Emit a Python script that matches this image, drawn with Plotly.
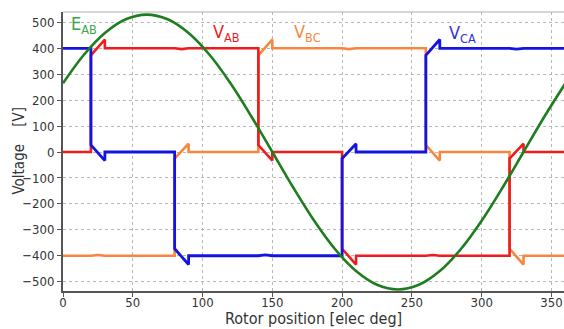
import plotly.graph_objects as go

# Back-EMF of line A-B, sampled every 15 electrical degrees
theta_e = [0, 15, 30, 45, 60, 75, 90, 105, 120, 135, 150, 165, 180,
           195, 210, 225, 240, 255, 270, 285, 300, 315, 330, 345, 360]
e_ab = [265, 375, 459, 512, 530, 512, 459, 375, 265, 137, 0, -137, -265,
        -375, -459, -512, -530, -512, -459, -375, -265, -137, 0, 137, 265]

# Six-step line voltages with commutation spikes (breakpoints)
theta_ab = [0, 20, 20, 30, 30, 80, 85, 90, 140, 140, 150, 150, 200, 200,
            210, 210, 260, 265, 270, 320, 320, 330, 330, 360]
v_ab = [0, 0, 373, 434, 400, 400, 397, 400, 400, 27, -33, 0, 0, -373,
        -434, -400, -400, -397, -400, -400, -25, 32, 0, 0]

theta_bc = [0, 20, 25, 30, 80, 80, 90, 90, 140, 140, 150, 150, 200, 205,
            210, 260, 260, 270, 270, 320, 320, 330, 330, 360]
v_bc = [-400, -400, -397, -400, -400, -25, 32, 0, 0, 373, 434, 400, 400,
        397, 400, 400, 27, -33, 0, 0, -373, -434, -400, -400]

theta_ca = [0, 20, 20, 30, 30, 80, 80, 90, 90, 140, 145, 150, 200, 200,
            210, 210, 260, 260, 270, 270, 320, 325, 330, 360]
v_ca = [400, 400, 27, -33, 0, 0, -373, -434, -400, -400, -397, -400, -400,
        -25, 32, 0, 0, 373, 434, 400, 400, 397, 400, 400]

x_ticks = [0, 50, 100, 150, 200, 250, 300, 350]
y_ticks = [-500, -400, -300, -200, -100, 0, 100, 200, 300, 400, 500]

C_AB = "#ee1c1c"
C_BC = "#f7873f"
C_CA = "#1414e0"
C_E = "#1e7d1e"
FONT = "DejaVu Sans Condensed, Roboto, sans-serif"
TXT = "#333333"

fig = go.Figure()
fig.add_trace(go.Scatter(x=theta_bc, y=v_bc, mode="lines",
                         line=dict(color=C_BC, width=2.6), name="V_BC"))
fig.add_trace(go.Scatter(x=theta_ab, y=v_ab, mode="lines",
                         line=dict(color=C_AB, width=2.6), name="V_AB"))
fig.add_trace(go.Scatter(x=theta_ca, y=v_ca, mode="lines",
                         line=dict(color=C_CA, width=2.8), name="V_CA"))
fig.add_trace(go.Scatter(x=theta_e, y=e_ab, mode="lines",
                         line=dict(color=C_E, width=2.6, shape="spline", smoothing=1.0),
                         name="E_AB"))

labels = [
    ("E<sub>AB</sub>", 4, 488, "#3aa54a"),
    ("V<sub>AB</sub>", 106, 458, C_AB),
    ("V<sub>BC</sub>", 164, 458, C_BC),
    ("V<sub>CA</sub>", 275, 455, "#3030d8"),
]
for txt, x, y, col in labels:
    fig.add_annotation(x=x, y=y, text=txt, showarrow=False, xanchor="left",
                       yanchor="middle", font=dict(family=FONT, size=18, color=col))

# Axis titles placed in pixel-aligned paper coordinates
fig.add_annotation(x=0.5, y=0, xref="paper", yref="paper", yshift=-27,
                   text="Rotor position [elec deg]", showarrow=False,
                   xanchor="center", yanchor="middle",
                   font=dict(family=FONT, size=16, color=TXT))
fig.add_annotation(x=0, y=0.5, xref="paper", yref="paper", xshift=-45,
                   text="Voltage&nbsp;&nbsp;&nbsp;&nbsp;[V]", showarrow=False,
                   textangle=-90, xanchor="center", yanchor="middle",
                   font=dict(family=FONT, size=15, color=TXT))

fig.add_shape(type="line", xref="paper", yref="paper", x0=0, x1=1, y0=1, y1=1,
              line=dict(color="#b0b0b0", width=1))

axis_common = dict(
    showgrid=True, gridcolor="#b8b8b8", griddash="dot", gridwidth=1,
    showline=True, linecolor="#555555", linewidth=2,
    ticks="outside", ticklen=4, tickcolor="#555555",
    tickfont=dict(family=FONT, size=13, color=TXT),
    zeroline=False,
)

fig.update_xaxes(range=[0, 359], tickvals=x_ticks, ticklabelstandoff=-6, **axis_common)
fig.update_yaxes(range=[-536, 540], tickvals=y_ticks, **axis_common)

fig.update_layout(
    width=564, height=329,
    margin=dict(l=63, r=0, t=12, b=38),
    plot_bgcolor="white", paper_bgcolor="white",
    showlegend=False,
)

fig.write_html("out.html")
